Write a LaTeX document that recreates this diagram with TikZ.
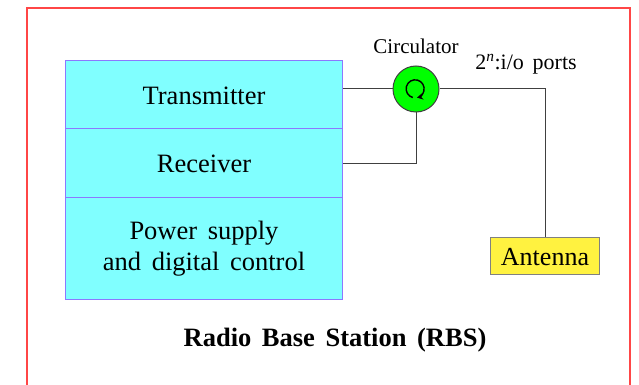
\documentclass[tikz,border=0pt]{standalone}
\usepackage{fontspec}
\setmainfont[WordSpace=1.6]{Liberation Serif}
\usetikzlibrary{calc,arrows.meta}
\definecolor{framered}{RGB}{255,70,70}
\definecolor{boxcyan}{RGB}{128,255,255}
\definecolor{boxedge}{RGB}{140,120,255}
\definecolor{antyellow}{RGB}{255,242,64}
\tikzset{
  x=1pt,y=-1pt,
  block/.style={draw=boxedge,line width=1pt,fill=boxcyan,minimum width=277pt,inner sep=0pt,anchor=north west},
  boxtext/.style={inner sep=0pt,align=center,font=\fontsize{26.5}{31}\selectfont},
  wire/.style={draw=black!75,line width=1pt},
  lbl/.style={inner sep=0pt,font=\fontsize{21}{26}\selectfont}
}
\begin{document}
\begin{tikzpicture}
\useasboundingbox (0,0) rectangle (639,385);
\fill[white] (0,0) rectangle (639,385);
\coordinate (fbl) at (27,385);
\coordinate (ftl) at (27,8);
\coordinate (ftr) at (630,8);
\coordinate (fbr) at (630,385);
\draw[framered,line width=1.2pt] (fbl) -- (ftl) -- (ftr) -- (fbr);
\node[block,minimum height=68pt] (tx) at (65,60) {};
\node[block,minimum height=69pt] (rx) at (65,128) {};
\node[block,minimum height=102pt] (ps) at (65,197) {};
\node[boxtext] (txl) at ($(tx.center)+(0,1.5)$) {Transmitter};
\node[boxtext] (rxl) at ($(rx.center)+(0,1)$) {Receiver};
\node[boxtext] (psl) at ($(ps.center)+(0,0.5)$) {Power supply\\and digital control};
\node[circle,draw=black!75,fill=green,line width=1pt,minimum size=46pt,inner sep=0pt] (circ) at (416,89) {};
\draw[black,line width=1.4pt,-{Stealth[length=6pt,width=6.5pt]}] ($(circ.center)+(-3.2,8.5)$) arc[start angle=255,end angle=-78,radius=9pt];
\node[draw=black!50,fill=antyellow,line width=1pt,minimum width=109pt,minimum height=37pt,inner sep=0pt] (ant) at (545,255.5) {};
\node[inner sep=0pt,font=\fontsize{26}{31}\selectfont] (antl) at ($(ant.center)+(0,1.5)$) {Antenna};
\node[lbl] (cl) at (416,46) {Circulator};
\node[inner sep=0pt,font=\fontsize{22}{26}\selectfont] (pl) at (526,64) {2\textsuperscript{\itshape n}:i/o ports};
\node[inner sep=0pt,font=\bfseries\fontsize{26.5}{33}\selectfont] (title) at (335,340) {Radio Base Station (RBS)};
\draw[wire] (tx.east |- circ) -- (circ);
\draw[wire] (circ) -- (circ -| ant) -- (ant);
\draw[wire] (rx.east) -- (rx.east -| circ) -- (circ);
\end{tikzpicture}
\end{document}
